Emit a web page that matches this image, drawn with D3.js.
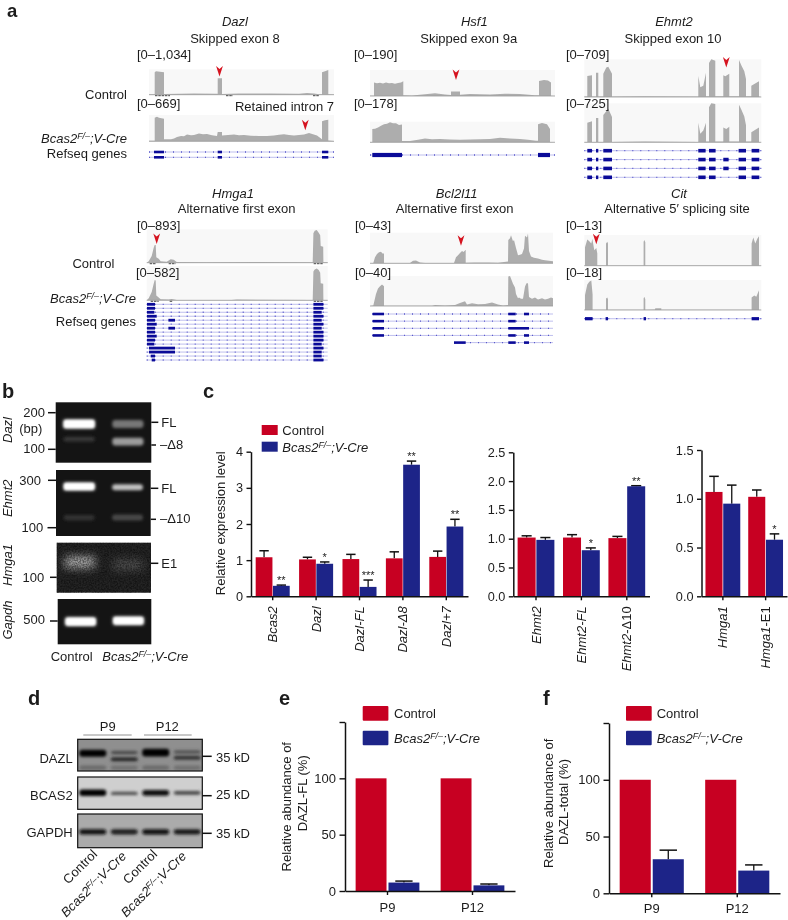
<!DOCTYPE html>
<html><head><meta charset="utf-8">
<script src="https://cdn.jsdelivr.net/npm/d3@7"></script>
<style>html,body{margin:0;padding:0;background:#fff}svg{display:block;filter:blur(.3px)}text{font-family:"Liberation Sans",Arial,sans-serif;fill:#1c1c1c}</style>
</head><body><svg id="fig" width="788" height="920"></svg>
<script>
// ---------- Data ----------
const groupNames = ["Control", "Bcas2 F/–;V-Cre"];
// c: expression, [control, mutant]; errors give the upper whisker value
const c1Cats = ["Bcas2","Dazl","Dazl-FL","Dazl-Δ8","Dazl+7"];
const c1Ctrl = [1.08,1.02,1.03,1.05,1.09];
const c1CtrlErr = [1.26,1.08,1.16,1.23,1.25];
const c1Mut = [0.29,0.90,0.26,3.64,1.93];
const c1MutErr = [0.31,0.95,0.45,3.74,2.13];
const c1Stars = ["**","*","***","**","**"];
const c1Ticks = [0,1,2,3,4];
const c2Cats = ["Ehmt2","Ehmt2-FL","Ehmt2-Δ10"];
const c2Ctrl = [1.02,1.02,1.01];
const c2CtrlErr = [1.05,1.07,1.04];
const c2Mut = [0.98,0.80,1.91];
const c2MutErr = [1.02,0.84,1.92];
const c2Stars = ["","*","**"];
const c2Ticks = [0,0.5,1,1.5,2,2.5];
const c3Cats = ["Hmga1","Hmga1-E1"];
const c3Ctrl = [1.07,1.02];
const c3CtrlErr = [1.23,1.09];
const c3Mut = [0.95,0.58];
const c3MutErr = [1.14,0.64];
const c3Stars = ["","*"];
const c3Ticks = [0,0.5,1,1.5];
// e, f: abundance
const ageCats = ["P9","P12"];
const eCtrl = [100,100];
const eMut = [7.5,5];
const eMutErr = [8.8,6.2];
const fCtrl = [100,100];
const fMut = [30,20];
const fMutErr = [38,25];
const pctTicks = [0,50,100,150];

// a: coverage profiles as [genomic position, % of track range]
const covDazlC = [[0,2],[5.7,2],[5.7,88],[7,92],[15,88],[15,3],[30,4],[45,5],[68.7,4],[68.7,65],[73,65],[73,3],[90,5],[120,5],[150,4],[158,7],[165,5],[170,2],[173,2],[173,88],[176,92],[179.3,97],[179.3,2],[185,1]];
const covDazlK = [[0,2],[5.7,2],[5.7,90],[8,93],[10,90],[15,86],[15,8],[22,8],[25,11],[28,16],[32,20],[35,19],[38,26],[42,23],[45,24],[50,30],[54,27],[58,28],[63,23],[68,20],[68.7,35],[73,35],[73,22],[79,24],[85,26],[90,23],[95,24],[102,21],[110,20],[118,20],[125,22],[130,25],[135,27],[140,24],[145,22],[150,24],[155,26],[160,32],[164,27],[168,22],[173,8],[173,76],[176,80],[179.3,82],[179.3,3],[185,1]];
const covHsf1C = [[0,1],[4,1],[4,52],[7,49],[10,51],[13,48],[16,52],[19,49],[22,50],[25,47],[28,50],[31,52],[33.3,57],[33.3,3],[42,2],[55,7],[65,11],[75,6],[81,4],[81,17],[90,17],[90,5],[100,8],[110,7],[120,6],[135,9],[150,8],[165,3],[169,3],[169,58],[174,62],[178,60],[181,52],[181,1],[185,0]];
const covHsf1K = [[0,2],[2.3,2],[2.3,64],[5,66],[8,72],[11,80],[14,88],[17,90],[20,97],[23,92],[26,92],[29,84],[32,86],[32,6],[40,6],[48,12],[55,18],[62,15],[70,16],[80,13],[90,12],[100,13],[110,15],[120,16],[130,22],[140,19],[150,16],[158,12],[166,8],[168,8],[168,88],[172,94],[177,88],[180,64],[180,2],[185,0]];
const covEhmt2C = [[0,1],[3,1],[3,56],[7.7,58],[7.7,1],[11.7,1],[11.7,64],[14,64],[14,1],[19,1],[19,62],[22,78],[24,80],[27.7,62],[27.7,1],[60,2],[114,1],[114,56],[116,26],[119,30],[121.7,64],[121.7,2],[124.7,2],[124.7,90],[127,100],[131,96],[131,2],[139,2],[139,58],[141,55],[145,62],[145,2],[154.7,2],[154.7,98],[157,84],[160,68],[161.7,48],[161.7,2],[167,2],[167,30],[174.7,42],[174.7,1],[177,0]];
const covEhmt2K = [[0,1],[3,1],[3,50],[7.7,54],[7.7,1],[11.7,1],[11.7,62],[14,62],[14,1],[19,1],[19,70],[24,86],[27.7,65],[27.7,1],[60,2],[114,1],[114,50],[116,22],[119,30],[121.7,50],[121.7,2],[124.7,2],[124.7,90],[127,100],[131,98],[131,2],[139,2],[139,38],[142,34],[145,40],[145,2],[154.7,2],[154.7,96],[157,84],[160,66],[161.7,44],[161.7,2],[167,2],[167,26],[174.7,38],[174.7,1],[177,0]];
const covHmgaC = [[0,0],[2,4],[5,20],[7,45],[8,53],[9,53],[9.6,16],[12,12],[14,4],[20,3],[24,10],[27,9],[30,2],[60,1],[110,2],[166,1],[166.7,88],[168,96],[170,98],[172,90],[173.5,82],[174,50],[176.5,48],[176.7,1],[181,1]];
const covHmgaK = [[0,0],[2,6],[5,24],[7,48],[8,59],[9,58],[9.6,14],[12,8],[14,3],[22,2],[25,4],[30,1],[85,1],[90,2],[166,1],[166.7,84],[168,90],[170,93],[172,88],[173.5,80],[174,50],[176.5,48],[176.7,1],[181,1]];
const covBclC = [[0,0],[3.3,1],[5,20],[7,30],[9,36],[11,38],[12.5,32],[14,32],[14,1],[40,1],[43,8],[46,9],[50,3],[55,1],[84,1],[86,20],[88,26],[90,34],[92,40],[93.5,37],[95.7,44],[95.7,2],[105,3],[118,3],[128,2],[138,6],[138.3,76],[140,82],[141,92],[143,72],[144,76],[146,50],[148,26],[150,28],[152,30],[154,48],[155,90],[157,84],[158,97],[159,40],[161,22],[164,18],[168,16],[172,12],[175,10],[179,8],[183,7]];
const covBclK = [[0,0],[3.3,2],[6,40],[8,58],[10,66],[12,72],[14,66],[14,1],[62,1],[65,3],[75,2],[85,3],[90,10],[95,16],[97,5],[102,9],[108,6],[115,7],[122,12],[128,5],[133,2],[138,3],[138.3,98],[140,100],[143,74],[145,62],[146,40],[148,26],[149,28],[151,24],[153,24],[155,65],[156.5,76],[158,76],[159,30],[162,24],[165,28],[168,22],[172,26],[175,22],[178,24],[181,28],[183,26]];
const covCitC = [[0,0],[0.7,2],[0.7,60],[3,85],[5,80],[7,72],[8,88],[10,50],[12,58],[13,40],[13,1],[21.7,1],[21.7,72],[23,78],[23.7,72],[23.7,1],[59.3,1],[59.3,78],[60,84],[61,76],[61,1],[167.3,1],[167.3,72],[169,92],[171,72],[173,88],[174.7,96],[174.7,1],[177,0]];
const covCitK = [[0,0],[0.7,2],[0.7,50],[3,85],[5,94],[7,98],[8.3,52],[8.3,1],[21.7,1],[21.7,38],[23,42],[23.7,36],[23.7,1],[59.3,1],[59.3,38],[60,44],[61,36],[61,1],[70.7,2],[71,6],[77,6],[77,1],[167.3,1],[167.3,42],[170,48],[172,44],[174.7,66],[174.7,1],[177,0]];
// a: read-segment marks under the tracks
const readsDazlC = [[6,21],[77,84],[164,170]];
const readsHmgaC = [[3,9],[22,29],[167,176]];
const readsHmgaK = [[4,12],[23,26],[167,176]];
// a: RefSeq exons per transcript as [start, end]
const genesDazl = [[[5,15],[68.7,73],[173,179.3]],[[5,15],[68.7,73],[173,179.3]]];
const genesHsf1 = [[[2.3,32],[168,180]]];
const eA=[3,7.7],eB=[11.7,14],eC=[19,27.7],eE=[114,121.3],eF=[124.7,131.3],eG=[139,144.3],eH=[154.3,161.7],eI=[167.3,175];
const genesEhmt2 = [[eA,eB,eC,eE,eF,eH,eI],[eA,eB,eC,eE,eF,eG,eH,eI],[eA,eB,eC,eE,eF,eG,eH,eI],[eA,eB,eC,eE,eF,eH,eI]];
const hmR=[166.7,176.7],hmS=[166.7,175];
const genesHmga = [[[0.3,8.3],hmR],[[0.3,8.3],hmR],[[0.3,7.6],hmS],[[0.3,10],hmR],[[0.3,8.3],[21.7,28.3],hmS],[[0.3,10],hmR],[[0.3,8.3],[21.7,28.3],hmS],[[0.3,8.3],hmR],[[0.3,10],hmR],[[0.3,8.3],hmR],[[0.3,7.6],hmS],[[2.3,28.3],hmR],[[2.3,28.3],hmS],[[4,8.3],hmS],[[5,8.3],hmR]];
const bA=[2.7,14],bB=[138.3,145.7],bC=[154,159];
const genesBcl = [[bA,bB,bC],[bA,bB],[bA,[138.3,159]],[bA,bB,bC],[[84,95.7],bB,bC]];
const genesCit = [[[0.7,8.3],[21.3,23.7],[59.3,61.7],[167.3,174.7]]];
// a: arrowheads [position, tip height % of the track]
const arrowsDazl = [[70.5,72]]; const arrowsDazlK=[[156.3,42]];
const arrowsHsf1 = [[86,62]];
const arrowsEhmt2 = [[142,78]];
const arrowsHmga = [[10,56]];
const arrowsBcl = [[91,57]];
const arrowsCit = [[12,70]];

// b: gel bands: [lane, % height in gel, % thickness, brightness]
const gelDazl = [[0,36,14,1],[1,36,13,.42],[0,61,8,.15],[1,65,13,.58]];
const gelEhmt2 = [[0,25,11,1],[1,26,9,.74],[0,72,8,.13],[1,72,9,.22]];
const gelHmga = [[0,39,24,.66],[1,44,22,.26]];
const gelGapdh = [[0,50,18,1],[1,48,18,1]];
// d: blot bands: [lane, % height in blot, % thickness, darkness]
const blotDazl = [[0,44,22,1],[1,42,9,.55],[1,63,13,.7],[2,42,24,1],[3,40,9,.45],[3,58,13,.62],[0,90,14,.18],[1,90,14,.14],[2,90,14,.18],[3,90,14,.14]];
const blotBcas2 = [[0,49,20,1],[1,51,10,.42],[2,49,18,.88],[3,49,12,.48]];
const blotGapdh = [[0,53,16,.88],[1,53,15,.78],[2,53,16,.9],[3,53,15,.84]];

// ---------- Helpers ----------
const RED="#c70022", BLUE="#1d2488", GREY="#adadad", GENE="#0b0b98";
const svg=d3.select("#fig");
const defs=svg.append("defs");
[["b1",1.2],["b2",1.7],["b6",4.5],["bw",1.4]].forEach(([id,s])=>{
  defs.append("filter").attr("id",id).attr("x","-40%").attr("y","-100%").attr("width","180%").attr("height","300%")
    .append("feGaussianBlur").attr("stdDeviation",s);
});
const grain=defs.append("filter").attr("id","grain");
grain.append("feTurbulence").attr("type","fractalNoise").attr("baseFrequency",.65).attr("numOctaves",2).attr("seed",4);
grain.append("feColorMatrix").attr("values","0 0 0 0 0  0 0 0 0 0  0 0 0 0 0  2.4 0 0 0 -.8");

function txt(x,y,s,o={}){
  const t=svg.append("text").attr("x",x).attr("y",y).attr("font-size",o.size||13)
    .attr("text-anchor",o.anchor||"start").text(s);
  if(o.italic)t.attr("font-style","italic");
  if(o.bold)t.attr("font-weight","bold");
  if(o.rot!=null)t.attr("x",null).attr("y",null).attr("transform",`translate(${x},${y}) rotate(${o.rot})`);
  return t;
}
function mutant(x,y,o={}){ // Bcas2^F/–;V-Cre
  const t=svg.append("text").attr("x",x).attr("y",y).attr("font-size",o.size||13).attr("font-style","italic")
    .attr("text-anchor",o.anchor||"start");
  t.append("tspan").text("Bcas2");
  t.append("tspan").attr("dy",-4).attr("font-size",(o.size||13)*.68).text("F/–");
  t.append("tspan").attr("dy",4).text(";V-Cre");
  if(o.rot!=null)t.attr("x",null).attr("y",null).attr("transform",`translate(${x},${y}) rotate(${o.rot})`);
  return t;
}
const cov=(xs,ys)=>d3.area().x(d=>xs(d[0])).y0(ys(0)).y1(d=>ys(d[1])).curve(d3.curveLinear);

function track(x,w,top,base,data,arrows,reads){
  const xs=d3.scaleLinear().domain([0,w]).range([x,x+w]);
  const ys=d3.scaleLinear().domain([0,100]).range([base,top]);
  svg.append("rect").attr("x",xs(0)).attr("y",ys(100)).attr("width",xs(w)-xs(0)).attr("height",ys(0)-ys(100)).attr("fill","#f8f8f8");
  svg.append("path").datum(data).attr("d",cov(xs,ys)).attr("fill",GREY);
  svg.append("line").attr("x1",xs(0)).attr("x2",xs(w)).attr("y1",ys(0)).attr("y2",ys(0)).attr("stroke","#9a9a9a").attr("stroke-width",.8);
  (reads||[]).forEach(r=>svg.append("line").attr("x1",xs(r[0])).attr("x2",xs(r[1])).attr("y1",ys(0)+1).attr("y2",ys(0)+1)
    .attr("stroke","#333").attr("stroke-width",.9).attr("stroke-dasharray","2.5 .8"));
  (arrows||[]).forEach(a=>{
    const cx=xs(a[0]), tip=ys(a[1]);
    svg.append("path").attr("d",`M${cx},${tip}L${cx-3.4},${tip-10.5}L${cx},${tip-7.5}L${cx+3.4},${tip-10.5}Z`).attr("fill","#d5131f");
  });
}
function genes(x,w,y0,step,rows,h,from,to){
  const xs=d3.scaleLinear().domain([0,w]).range([x,x+w]);
  const ys=d3.scaleLinear().domain([0,1]).range([y0,y0+step]);
  rows.forEach((ex,i)=>{
    const y=ys(i);
    const l=(from&&from[i]!=null)?from[i]:0;
    svg.append("line").attr("x1",xs(l)).attr("x2",xs(w)).attr("y1",y).attr("y2",y).attr("stroke","#a3a3e6").attr("stroke-width",.7);
    svg.append("line").attr("x1",xs(l)).attr("x2",xs(w)).attr("y1",y).attr("y2",y).attr("stroke","#5a5acb").attr("stroke-width",1.3).attr("stroke-dasharray","1 7");
    svg.selectAll(null).data(ex).enter().append("rect").attr("x",d=>xs(d[0])).attr("width",d=>xs(d[1])-xs(d[0]))
      .attr("y",y-h/2).attr("height",h).attr("fill",GENE);
  });
}
let clipN=0;
function gel(x,y,w,h,bands,o={}){
  const id="c"+(++clipN);
  defs.append("clipPath").attr("id",id).append("rect").attr("x",x).attr("y",y).attr("width",w).attr("height",h);
  const lanes=d3.scaleBand().domain([0,1]).range([x,x+w]).paddingInner(.36).paddingOuter(.16);
  const ys=d3.scaleLinear().domain([0,100]).range([y,y+h]);
  svg.append("rect").attr("x",x).attr("y",y).attr("width",w).attr("height",h).attr("fill",o.bg||"#141414");
  const g=svg.append("g").attr("clip-path",`url(#${id})`);
  bands.forEach(b=>{
    const bh=ys(b[2])-ys(0), cy=ys(b[1]);
    if(b[3]>.9&&!o.soft){
      g.append("rect").attr("x",lanes(b[0])-1).attr("width",lanes.bandwidth()+2).attr("y",cy-bh/2-1).attr("height",bh+2).attr("rx",3)
        .attr("fill","#777").attr("filter","url(#b2)");
      g.append("rect").attr("x",lanes(b[0])).attr("width",lanes.bandwidth()).attr("y",cy-bh/2).attr("height",bh).attr("rx",3)
        .attr("fill","#fff").attr("filter","url(#b1)");
    } else {
      const v=Math.round(20+235*b[3]);
      g.append("rect").attr("x",lanes(b[0])).attr("width",lanes.bandwidth()).attr("y",cy-bh/2).attr("height",bh).attr("rx",3)
        .attr("fill",`rgb(${v},${v},${v})`).attr("filter",o.soft?"url(#b6)":"url(#b2)");
    }
  });
  if(o.noise) g.append("rect").attr("x",x).attr("y",y).attr("width",w).attr("height",h).attr("filter","url(#grain)").attr("opacity",o.noise);
}
function blot(x,y,w,h,bg,bands){
  const id="c"+(++clipN);
  defs.append("clipPath").attr("id",id).append("rect").attr("x",x).attr("y",y).attr("width",w).attr("height",h);
  const lanes=d3.scaleBand().domain([0,1,2,3]).range([x,x+w]).paddingInner(.14).paddingOuter(.05);
  const ys=d3.scaleLinear().domain([0,100]).range([y,y+h]);
  svg.append("rect").attr("x",x).attr("y",y).attr("width",w).attr("height",h).attr("fill",bg);
  const g=svg.append("g").attr("clip-path",`url(#${id})`);
  bands.forEach(b=>{
    const bh=ys(b[2])-ys(0), v=Math.round(130*(1-b[3]));
    g.append("rect").attr("x",lanes(b[0])).attr("width",lanes.bandwidth()).attr("y",ys(b[1])-bh/2).attr("height",bh).attr("rx",3)
      .attr("fill",`rgb(${v},${v},${v})`).attr("filter","url(#bw)");
  });
  svg.append("rect").attr("x",x).attr("y",y).attr("width",w).attr("height",h).attr("fill","none").attr("stroke","#111").attr("stroke-width",1.2);
}
function hTick(x1,x2,y){svg.append("line").attr("x1",x1).attr("x2",x2).attr("y1",y).attr("y2",y).attr("stroke","#111").attr("stroke-width",1.5);}

function catLabel(g,d){ // rotated category text with the italic gene name
  const m=d.match(/^(Ehmt2|Hmga1)(-Δ10|-E1)$/);
  const t=g.append("text").attr("font-size",13).attr("text-anchor","end").attr("font-style","italic");
  if(m){t.append("tspan").text(m[1]);t.append("tspan").attr("font-style","normal").text(m[2]);}
  else t.text(d);
  return t;
}
function bars(o){
  const x=d3.scaleBand().domain(o.cats).range(o.xr).paddingInner(o.pad).paddingOuter(o.pad/2);
  const sub=d3.scaleBand().domain([0,1]).range([0,x.bandwidth()]).paddingInner(o.gap);
  const y=d3.scaleLinear().domain(o.yd).range(o.yr);
  const g=svg.append("g");
  const series=[[o.ctrl,o.ctrlErr,RED],[o.mut,o.mutErr,BLUE]];
  series.forEach((s,si)=>{
    if(s[1]) o.cats.forEach((c,i)=>{
      const cx=x(c)+sub(si)+sub.bandwidth()/2, cap=sub.bandwidth()*(o.cap||.28);
      g.append("line").attr("x1",cx).attr("x2",cx).attr("y1",y(s[0][i])).attr("y2",y(s[1][i])).attr("stroke","#111").attr("stroke-width",1.3);
      g.append("line").attr("x1",cx-cap).attr("x2",cx+cap).attr("y1",y(s[1][i])).attr("y2",y(s[1][i])).attr("stroke","#111").attr("stroke-width",1.5);
    });
    g.selectAll(null).data(o.cats).enter().append("rect")
      .attr("x",c=>x(c)+sub(si)).attr("width",sub.bandwidth())
      .attr("y",(c,i)=>y(s[0][i])).attr("height",(c,i)=>y(0)-y(s[0][i])).attr("fill",s[2]);
  });
  if(o.stars) o.cats.forEach((c,i)=>{
    if(!o.stars[i])return;
    const cx=x(c)+sub(1)+sub.bandwidth()/2;
    g.append("text").attr("x",cx).attr("y",y(o.mutErr[i])-o.starGap).attr("text-anchor","middle").attr("font-size",11).text(o.stars[i]);
  });
  const ya=d3.axisLeft(y).tickValues(o.ticks).tickSize(o.tickLen||4.5).tickSizeOuter(0).tickPadding(3.5).tickFormat(o.fmt);
  const yg=svg.append("g").attr("transform",`translate(${o.xr[0]},0)`).call(ya);
  const xa=d3.axisBottom(x).tickSize(4).tickSizeOuter(0).tickFormat(o.xplain?(d=>d):"");
  const xg=svg.append("g").attr("transform",`translate(0,${y(0)})`).call(xa);
  [yg,xg].forEach(a=>{
    a.select(".domain").attr("stroke","#111").attr("stroke-width",1.5);
    a.selectAll(".tick line").attr("stroke","#111").attr("stroke-width",1.4);
    a.selectAll("text").attr("font-size",o.fs||12.7).attr("font-family",null).attr("fill","#1c1c1c");
  });
  if(o.xplain) xg.selectAll("text").attr("dy",0).attr("y",o.xLabelDy);
  else xg.selectAll(".tick").each(function(d){
    const t=catLabel(d3.select(this),d);
    t.attr("transform",`translate(4.5,10) rotate(-90)`);
  });
}

// ---------- Panel letters ----------
[["a",7,17],["b",2,398],["c",203,398],["d",28,705],["e",279,705],["f",543,705]].forEach(d=>txt(d[1],d[2],d[0],{bold:true,size:d[0]==="a"?18.5:20}));

// ---------- Panel a ----------
txt(235,26,"Dazl",{anchor:"middle",italic:true});
txt(235,42.7,"Skipped exon 8",{anchor:"middle"});
txt(137,59,"[0–1,034]");
txt(127,98.7,"Control",{anchor:"end"});
txt(137,108,"[0–669]");
txt(334,110.7,"Retained intron 7",{anchor:"end"});
mutant(127,142.7,{anchor:"end"});
txt(127,157.7,"Refseq genes",{anchor:"end"});
track(149,185,69.3,94.7,covDazlC,arrowsDazl,readsDazlC);
track(149,185,115,141.3,covDazlK,arrowsDazlK);
genes(149,185,152,5.3,genesDazl,2.6);

txt(474.3,26,"Hsf1",{anchor:"middle",italic:true});
txt(468.7,42.7,"Skipped exon 9a",{anchor:"middle"});
txt(354,59,"[0–190]");
txt(354,108,"[0–178]");
track(370,185,70,96,covHsf1C,arrowsHsf1);
track(370,185,121.7,142.3,covHsf1K);
genes(370,185,155,5,genesHsf1,4.2);

txt(674,26,"Ehmt2",{anchor:"middle",italic:true});
txt(673,42.7,"Skipped exon 10",{anchor:"middle"});
txt(566,59,"[0–709]");
txt(566,108,"[0–725]");
track(584.3,177,59.3,97,covEhmt2C,arrowsEhmt2);
track(584.3,177,103.3,142.3,covEhmt2K);
genes(584.3,177,150.7,8.87,genesEhmt2,3.6);

txt(233,198,"Hmga1",{anchor:"middle",italic:true});
txt(236.7,213.3,"Alternative first exon",{anchor:"middle"});
txt(137,230,"[0–893]");
txt(114.3,267.7,"Control",{anchor:"end"});
txt(136,276.7,"[0–582]");
mutant(136,302.7,{anchor:"end"});
txt(136,326,"Refseq genes",{anchor:"end"});
track(146.7,181,229.3,262.7,covHmgaC,arrowsHmga,readsHmgaC);
track(146.7,181,266,300.3,covHmgaK,null,readsHmgaK);
genes(146.7,181,304.3,3.98,genesHmga,2.8);

txt(456.7,198,"Bcl2l11",{anchor:"middle",italic:true});
txt(454.7,213.3,"Alternative first exon",{anchor:"middle"});
txt(355,230,"[0–43]");
txt(355,276.7,"[0–40]");
track(370,183,232.7,263.3,covBclC,arrowsBcl);
track(370,183,276,306,covBclK);
genes(370,183,314,7.15,genesBcl,2.6,[2,2,2,2,84]);

txt(679,198,"Cit",{anchor:"middle",italic:true});
txt(677,213.3,"Alternative 5′ splicing site",{anchor:"middle"});
txt(566,230,"[0–13]");
txt(566,276.7,"[0–18]");
track(584.3,177,235,265.7,covCitC,arrowsCit);
track(584.3,177,280,310,covCitK);
genes(584.3,177,318.7,5,genesCit,3.2);

// ---------- Panel b ----------
gel(55.7,402.3,95.6,60.4,gelDazl);
gel(56,470,94.7,66,gelEhmt2);
gel(56.7,542.7,94.3,50,gelHmga,{soft:true,noise:.45,bg:"#242424"});
gel(57.7,599,93.6,45.3,gelGapdh);
[["Dazl",430],["Ehmt2",498.3],["Hmga1",565],["Gapdh",620]].forEach(d=>txt(12,d[1],d[0],{italic:true,rot:-90,anchor:"middle"}));
txt(45,416.7,"200",{anchor:"end"});hTick(48,55.7,412.7);
txt(42.3,433.3,"(bp)",{anchor:"end"});
txt(45,453.3,"100",{anchor:"end"});hTick(48,55.7,449.3);
hTick(151.3,158.3,422.3);txt(161.3,427.3,"FL");
hTick(151.3,156,445);txt(160,449,"–Δ8");
txt(41,485,"300",{anchor:"end"});hTick(48,56,480.3);
hTick(150.7,158.3,488.3);txt(161.3,492.7,"FL");
txt(43.3,531.7,"100",{anchor:"end"});hTick(47.5,56,527.7);
hTick(150.7,156,519.3);txt(160,523.3,"–Δ10");
hTick(151,158.3,563.3);txt(161.3,567.7,"E1");
txt(44.3,581.7,"100",{anchor:"end"});hTick(50,56.7,577.3);
txt(45,624.3,"500",{anchor:"end"});hTick(50,57.7,621);
txt(71.7,661,"Control",{anchor:"middle"});
mutant(102.3,661);

// ---------- Panel c ----------
svg.append("rect").attr("x",261.7).attr("y",425).attr("width",16).attr("height",10).attr("fill",RED);
svg.append("rect").attr("x",261.7).attr("y",441.7).attr("width",16).attr("height",10).attr("fill",BLUE);
txt(282.3,434.7,"Control");
mutant(282.3,451.7);
txt(225,523.3,"Relative expression level",{rot:-90,anchor:"middle"});
bars({cats:c1Cats,ctrl:c1Ctrl,ctrlErr:c1CtrlErr,mut:c1Mut,mutErr:c1MutErr,stars:c1Stars,starGap:1,ticks:c1Ticks,
  xr:[251,468],pad:.216,gap:.03,yd:[0,4],yr:[596.3,451.7],fmt:d3.format("d")});
bars({cats:c2Cats,ctrl:c2Ctrl,ctrlErr:c2CtrlErr,mut:c2Mut,mutErr:c2MutErr,stars:c2Stars,starGap:1,ticks:c2Ticks,
  xr:[513.3,649.5],pad:.19,gap:.04,yd:[0,2.5],yr:[596.3,452.3],fmt:d3.format(".1f")});
bars({cats:c3Cats,ctrl:c3Ctrl,ctrlErr:c3CtrlErr,mut:c3Mut,mutErr:c3MutErr,stars:c3Stars,starGap:1,ticks:c3Ticks,
  xr:[701.5,787],pad:.186,gap:.04,yd:[0,1.5],yr:[596.3,450],fmt:d3.format(".1f")});

// ---------- Panel d ----------
blot(77.7,739.3,124.6,31.7,"#8f8f8f",blotDazl);
blot(77.7,777,124.6,32.3,"#cfcfcf",blotBcas2);
blot(77.7,814,124.6,33.7,"#ababab",blotGapdh);
txt(107.7,731,"P9",{anchor:"middle"});
txt(167.3,731,"P12",{anchor:"middle"});
[[83.3,131.7],[144,191.7]].forEach(r=>svg.append("line").attr("x1",r[0]).attr("x2",r[1]).attr("y1",735).attr("y2",735).attr("stroke","#777").attr("stroke-width",.8));
[["DAZL",762.7],["BCAS2",800],["GAPDH",836.7]].forEach(d=>txt(72.7,d[1],d[0],{anchor:"end"}));
[[756.3,"35 kD",761.7],[795.7,"25 kD",799.3],[833.3,"35 kD",838.3]].forEach(d=>{hTick(202.3,211.7,d[0]);txt(216,d[2],d[1]);});
txt(98,855,"Control",{anchor:"end",rot:-45});
mutant(127,857,{anchor:"end",rot:-45});
txt(158,855,"Control",{anchor:"end",rot:-45});
mutant(187,857,{anchor:"end",rot:-45});

// ---------- Panels e, f ----------
const hide150=d=>d===150?"":d;
function legend(x,tx){
  svg.append("rect").attr("x",x).attr("y",706).attr("width",25.7).attr("height",14.7).attr("fill",RED).attr("rx",1);
  svg.append("rect").attr("x",x).attr("y",730.7).attr("width",25.7).attr("height",14.5).attr("fill",BLUE).attr("rx",1);
  txt(tx,718.3,"Control");
  mutant(tx,743.3);
}
legend(362.7,394);
txt(290.7,806.7,"Relative abundance of",{rot:-90,anchor:"middle"});
txt(306.7,793.3,"DAZL-FL (%)",{rot:-90,anchor:"middle"});
bars({cats:ageCats,ctrl:eCtrl,mut:eMut,mutErr:eMutErr,ticks:pctTicks,xr:[345,515],pad:.25,gap:.06,cap:.28,
  yd:[0,150],yr:[891,722],fmt:hide150,xplain:true,xLabelDy:21,fs:13,tickLen:5.5});
legend(626,656.7);
txt(553.3,803.3,"Relative abundance of",{rot:-90,anchor:"middle"});
txt(568.3,802,"DAZL-total (%)",{rot:-90,anchor:"middle"});
bars({cats:ageCats,ctrl:fCtrl,mut:fMut,mutErr:fMutErr,ticks:pctTicks,xr:[609,780],pad:.25,gap:.06,cap:.28,
  yd:[0,150],yr:[893.3,723],fmt:hide150,xplain:true,xLabelDy:20,fs:13,tickLen:5.5});

// keep labels above the track backgrounds
svg.selectAll(":scope > text").raise();
</script></body></html>
